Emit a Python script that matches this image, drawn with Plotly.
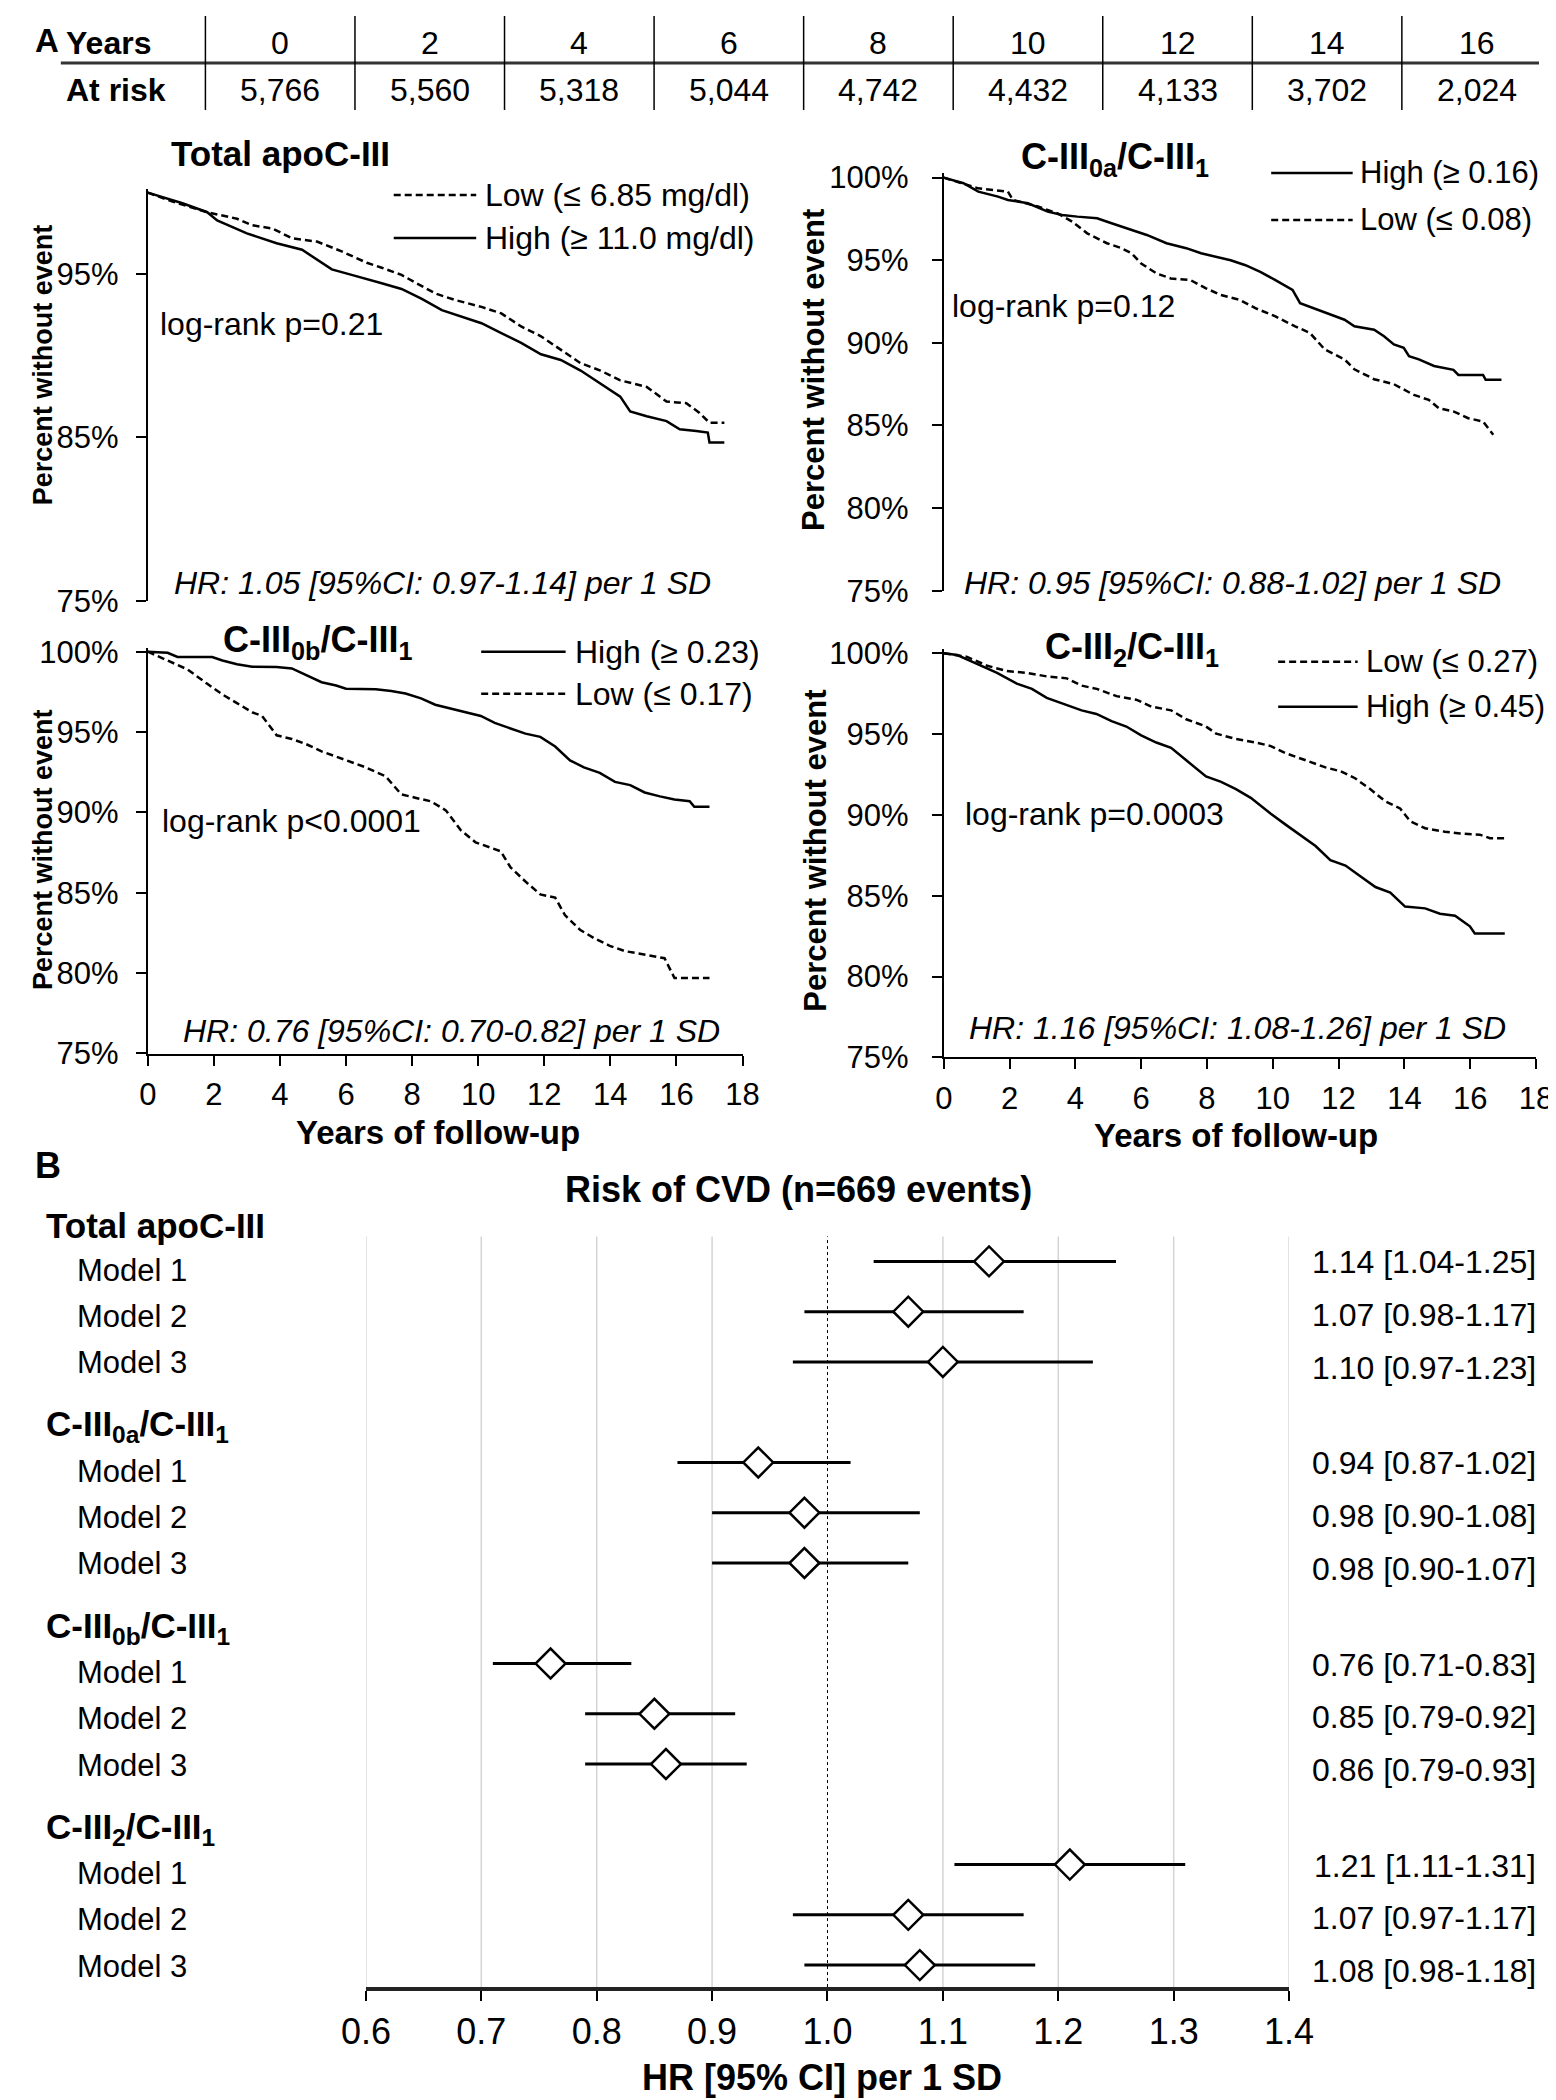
import plotly.graph_objects as go

W, H = 1556, 2100
FONT = "Liberation Sans, Arial, sans-serif"

# the page shows the paper at an offset; positions below are target pixels,
# converted to paper fractions here
OFFX, SPANX = 29.0, 1515.5
OFFY, SPANY = 21.0, 2070.0


def px(x):
    return (x - OFFX) / SPANX


def py(y):
    return 1 - (y - OFFY) / SPANY


# ---------------- data: at-risk table ----------------
years = [0, 2, 4, 6, 8, 10, 12, 14, 16]
at_risk = [5766, 5560, 5318, 5044, 4742, 4432, 4133, 3702, 2024]

# ---------------- data: Kaplan-Meier curves ----------------
# Total apoC-III
tot_low_t = [0, 0.75, 1.8, 2.26, 2.7, 3.16, 3.77, 4.37, 5.12, 5.87, 6.63, 7.08, 7.68, 8.13, 8.73, 9.34,
             10.1, 10.7, 11.3, 11.9, 12.5, 13.1, 13.7, 14.3, 15.1, 15.7, 16.3, 16.7, 17.0, 17.45]
tot_low_s = [100, 99.45, 98.8, 98.6, 98.4, 98.0, 97.8, 97.2, 97.0, 96.4, 95.7, 95.4, 94.96, 94.45, 93.8, 93.4,
             93.0, 92.6, 91.8, 91.2, 90.4, 89.55, 89.1, 88.5, 88.1, 87.2, 87.1, 86.5, 85.9, 85.9]
tot_high_t = [0, 1.05, 1.8, 2.1, 3.0, 3.9, 4.67, 5.27, 5.57, 6.17, 6.78, 7.08, 7.68, 8.28, 8.9, 9.5, 10.1,
              10.7, 11.3, 11.9, 12.5, 13.1, 13.7, 14.3, 14.6, 15.1, 15.7, 16.1, 16.6, 16.95, 17.0, 17.45]
tot_high_s = [100, 99.35, 98.8, 98.3, 97.5, 96.9, 96.5, 95.7, 95.3, 94.96, 94.65, 94.45, 94.1, 93.5, 92.8, 92.4,
              92.0, 91.4, 90.8, 90.1, 89.75, 89.1, 88.3, 87.5, 86.6, 86.3, 86.0, 85.5, 85.4, 85.3, 84.7, 84.7]

# C-III0a/C-III1
c0a_high_t = [0, 0.6, 1.05, 1.65, 1.95, 2.56, 3.16, 3.6, 4.06, 4.66, 5.1, 5.56, 6.17, 6.77, 7.37, 7.82,
              8.27, 8.72, 9.17, 9.62, 10.08, 10.6, 10.83, 11.1, 11.58, 12.18, 12.48, 13.08, 13.38, 13.68,
              13.98, 14.14, 14.44, 14.9, 15.49, 15.64, 16.39, 16.47, 16.95]
c0a_high_s = [100, 99.66, 99.15, 98.85, 98.65, 98.45, 97.94, 97.74, 97.64, 97.54, 97.24, 96.94, 96.53, 96.03,
              95.73, 95.42, 95.22, 95.0, 94.7, 94.3, 93.8, 93.2, 92.4, 92.2, 91.8, 91.4, 91.0, 90.8, 90.4,
              89.9, 89.7, 89.2, 89.0, 88.6, 88.37, 88.06, 88.06, 87.76, 87.76]
c0a_low_t = [0, 1.05, 1.95, 2.1, 2.86, 3.46, 3.9, 4.36, 4.96, 5.4, 5.71, 6.0, 6.47, 6.9, 7.5, 7.97, 8.42,
             9.0, 9.47, 10.08, 10.68, 11.13, 11.58, 12.18, 12.48, 13.08, 13.68, 14.29, 14.74, 15.04, 15.49,
             15.94, 16.39, 16.7]
c0a_low_s = [100, 99.35, 99.15, 98.65, 98.25, 97.84, 97.34, 96.63, 96.03, 95.73, 95.42, 94.8, 94.2, 93.9,
             93.8, 93.3, 92.9, 92.6, 92.1, 91.6, 91.0, 90.6, 89.6, 89.0, 88.4, 87.8, 87.5, 86.85, 86.55,
             86.05, 85.85, 85.44, 85.24, 84.44]

# C-III0b/C-III1
c0b_high_t = [0, 0.6, 0.9, 1.95, 2.26, 2.7, 3.16, 3.9, 4.36, 4.8, 5.26, 5.7, 6.0, 6.9, 7.37, 7.8, 8.27,
              8.7, 9.17, 9.62, 10.08, 10.5, 10.98, 11.43, 11.88, 12.33, 12.78, 13.2, 13.68, 14.14, 14.6,
              15.04, 15.5, 15.94, 16.4, 16.54, 17.0]
c0b_high_s = [100, 99.93, 99.67, 99.67, 99.45, 99.22, 99.07, 99.05, 98.96, 98.56, 98.1, 97.9, 97.7, 97.67,
              97.56, 97.4, 97.1, 96.7, 96.45, 96.2, 96.0, 95.57, 95.2, 94.9, 94.7, 94.1, 93.24, 92.8, 92.46,
              91.9, 91.7, 91.24, 91.0, 90.8, 90.7, 90.35, 90.35]
c0b_low_t = [0, 0.6, 1.2, 1.8, 2.26, 2.7, 3.16, 3.46, 3.9, 4.36, 4.8, 5.26, 5.7, 6.17, 6.6, 7.2, 7.67,
             8.12, 8.57, 9.02, 9.47, 9.92, 10.68, 10.98, 11.43, 11.88, 12.33, 12.63, 13.08, 13.53, 13.98,
             14.44, 15.04, 15.64, 15.94, 17.0]
c0b_low_s = [100, 99.45, 98.9, 98.0, 97.34, 96.8, 96.23, 96.0, 94.8, 94.57, 94.24, 93.8, 93.46, 93.13, 92.8,
             92.24, 91.13, 90.9, 90.69, 90.13, 88.9, 88.14, 87.58, 86.58, 85.7, 84.9, 84.7, 83.6, 82.7,
             82.15, 81.7, 81.37, 81.15, 80.93, 79.7, 79.7]

# C-III2/C-III1
c2_low_t = [0, 0.71, 1.32, 1.92, 2.53, 3.13, 3.74, 4.19, 4.65, 5.25, 5.85, 6.31, 6.91, 7.37, 7.97, 8.28,
            8.88, 9.49, 9.94, 10.39, 11.0, 11.6, 12.06, 12.5, 12.96, 13.42, 13.87, 14.18, 14.63, 15.23,
            15.69, 16.29, 16.6, 17.05]
c2_low_s = [100, 99.78, 99.23, 98.9, 98.79, 98.57, 98.45, 98.0, 97.8, 97.35, 97.13, 96.7, 96.47, 95.92,
            95.47, 95.03, 94.7, 94.48, 94.26, 93.82, 93.38, 92.94, 92.7, 92.27, 91.6, 90.84, 90.4, 89.6,
            89.18, 88.96, 88.85, 88.78, 88.56, 88.56]
c2_high_t = [0, 0.41, 1.01, 1.62, 2.22, 2.68, 3.13, 3.59, 4.19, 4.64, 5.1, 5.55, 6.0, 6.46, 6.91, 7.37,
             7.97, 8.43, 8.88, 9.33, 9.94, 10.39, 10.85, 11.3, 11.75, 12.21, 12.66, 13.12, 13.57, 14.02,
             14.63, 15.08, 15.54, 15.99, 16.14, 17.05]
c2_high_s = [100, 99.89, 99.34, 98.79, 98.12, 97.8, 97.24, 96.9, 96.47, 96.25, 95.8, 95.47, 94.92, 94.48,
             94.15, 93.38, 92.38, 92.05, 91.6, 91.06, 90.07, 89.4, 88.74, 88.08, 87.2, 86.87, 86.2, 85.54,
             85.2, 84.33, 84.22, 83.89, 83.77, 83.11, 82.67, 82.67]

panel_titles = ["Total apoC-III", "C-III<sub>0a</sub>/C-III<sub>1</sub>",
                "C-III<sub>0b</sub>/C-III<sub>1</sub>", "C-III<sub>2</sub>/C-III<sub>1</sub>"]
legend_labels = [["Low (\u2264 6.85 mg/dl)", "High (\u2265 11.0 mg/dl)"],
                 ["High (\u2265 0.16)", "Low (\u2264 0.08)"],
                 ["High (\u2265 0.23)", "Low (\u2264 0.17)"],
                 ["Low (\u2264 0.27)", "High (\u2265 0.45)"]]
logrank_text = ["log-rank p=0.21", "log-rank p=0.12", "log-rank p<0.0001", "log-rank p=0.0003"]
hr_text = ["HR: 1.05 [95%CI: 0.97-1.14] per 1 SD", "HR: 0.95 [95%CI: 0.88-1.02] per 1 SD",
           "HR: 0.76 [95%CI: 0.70-0.82] per 1 SD", "HR: 1.16 [95%CI: 1.08-1.26] per 1 SD"]

# ---------------- data: forest plot ----------------
forest_groups = ["Total apoC-III", "C-III<sub>0a</sub>/C-III<sub>1</sub>",
                 "C-III<sub>0b</sub>/C-III<sub>1</sub>", "C-III<sub>2</sub>/C-III<sub>1</sub>"]
forest_models = ["Model 1", "Model 2", "Model 3"]
hr = [1.14, 1.07, 1.10, 0.94, 0.98, 0.98, 0.76, 0.85, 0.86, 1.21, 1.07, 1.08]
hr_lo = [1.04, 0.98, 0.97, 0.87, 0.90, 0.90, 0.71, 0.79, 0.79, 1.11, 0.97, 0.98]
hr_hi = [1.25, 1.17, 1.23, 1.02, 1.08, 1.07, 0.83, 0.92, 0.93, 1.31, 1.17, 1.18]
forest_ticks = [0.6, 0.7, 0.8, 0.9, 1.0, 1.1, 1.2, 1.3, 1.4]

# ---------------- layout geometry (target pixels) ----------------
panels = [
    dict(series=[(tot_low_t, tot_low_s, True), (tot_high_t, tot_high_s, False)],
         x=(144.5, 743), y=(192.7, 601), yt=[75, 85, 95], xaxis_shown=False,
         title=(278, 154), title_size=35, leg_line=(392, 475), leg_text=482, leg_y=(195, 238), leg_size=32,
         lr=(155, 324), hr=(441, 583), ytitle=(38.5, 365), yt_size=27, standoff=11, xtitle=None),
    dict(series=[(c0a_high_t, c0a_high_s, False), (c0a_low_t, c0a_low_s, True)],
         x=(945.5, 1541.5), y=(177.7, 591), yt=[75, 80, 85, 90, 95, 100], xaxis_shown=False,
         title=(1118, 155), title_size=36, leg_line=(1275, 1357), leg_text=1362, leg_y=(173, 220), leg_size=31,
         lr=(952, 306), hr=(1236, 583), ytitle=(815, 370), yt_size=31, standoff=17, xtitle=None),
    dict(series=[(c0b_high_t, c0b_high_s, False), (c0b_low_t, c0b_low_s, True)],
         x=(144.5, 743), y=(652, 1054), yt=[75, 80, 85, 90, 95, 100], xaxis_shown=True,
         title=(315, 638), title_size=36, leg_line=(480, 565), leg_text=572, leg_y=(652, 694), leg_size=32,
         lr=(157, 821), hr=(450, 1031), ytitle=(38.5, 850), yt_size=27, standoff=11, xtitle=(437, 1133)),
    dict(series=[(c2_low_t, c2_low_s, True), (c2_high_t, c2_high_s, False)],
         x=(945.5, 1541.5), y=(653.6, 1057.9), yt=[75, 80, 85, 90, 95, 100], xaxis_shown=True,
         title=(1135, 645), title_size=36, leg_line=(1282, 1362), leg_text=1368, leg_y=(662, 707), leg_size=31,
         lr=(965, 814), hr=(1241, 1028), ytitle=(817, 851), yt_size=31, standoff=17, xtitle=(1240, 1136)),
]

DASH = "7px,4px"
LW = 2.5
TICKSZ = 31
TXTSZ = 32

fig = go.Figure()
layout = {}
annotations = []
shapes = []


def txt(x, y, text, size, anchor="center", yanchor="middle", angle=0, xref="paper", yref="paper", **kw):
    d = dict(xref=xref, yref=yref, x=x, y=y, text=text, showarrow=False, xanchor=anchor,
             yanchor=yanchor, textangle=angle, font=dict(family=FONT, size=size, color="black"))
    d.update(kw)
    annotations.append(d)


YMAX = 100.25
for i, p in enumerate(panels, start=1):
    xa = "x" if i == 1 else f"x{i}"
    ya = "y" if i == 1 else f"y{i}"
    for t, s, dashed in p["series"]:
        fig.add_trace(go.Scatter(x=t, y=s, mode="lines", xaxis=xa, yaxis=ya, showlegend=False,
                                 hoverinfo="skip",
                                 line=dict(color="black", width=LW, dash=DASH if dashed else "solid")))
    p100, p75 = p["y"]
    top_px = p100 - (YMAX - 100) * (p75 - p100) / 25.0
    layout[f"xaxis{i}"] = dict(
        domain=[px(p["x"][0]), px(p["x"][1])], range=[0, 18], anchor=ya,
        showgrid=False, zeroline=False,
        showline=p["xaxis_shown"], linecolor="black", linewidth=2,
        ticks="outside" if p["xaxis_shown"] else "", ticklen=10, tickwidth=2, tickcolor="black",
        tickvals=list(range(0, 19, 2)), showticklabels=p["xaxis_shown"],
        tickfont=dict(family=FONT, size=31, color="black"), ticklabelstandoff=2,
    )
    layout[f"yaxis{i}"] = dict(
        domain=[py(p75), py(top_px)], range=[75, YMAX], anchor=xa,
        showgrid=False, zeroline=False, showline=True, linecolor="black", linewidth=2,
        ticks="outside", ticklen=10, tickwidth=2, tickcolor="black",
        tickvals=p["yt"], ticktext=[f"{v}%" for v in p["yt"]],
        tickfont=dict(family=FONT, size=TICKSZ, color="black"), ticklabelstandoff=p["standoff"],
    )
    sub = "<sub>" in panel_titles[i - 1]
    txt(px(p["title"][0]), py(p["title"][1] + (4 if sub else 0)), f"<b>{panel_titles[i-1]}</b>",
        p["title_size"])
    for k, (lab, (_, _, dashed)) in enumerate(zip(legend_labels[i - 1], p["series"])):
        yy = p["leg_y"][k]
        shapes.append(dict(type="line", xref="paper", yref="paper", x0=px(p["leg_line"][0]),
                           x1=px(p["leg_line"][1]), y0=py(yy), y1=py(yy),
                           line=dict(color="black", width=LW, dash=DASH if dashed else "solid")))
        txt(px(p["leg_text"]), py(yy), lab, p["leg_size"], anchor="left")
    txt(px(p["lr"][0]), py(p["lr"][1]), logrank_text[i - 1], TXTSZ, anchor="left")
    txt(px(p["hr"][0]), py(p["hr"][1]), f"<i>{hr_text[i-1]}</i>", TXTSZ)
    txt(px(p["ytitle"][0]), py(p["ytitle"][1]), "<b>Percent without event</b>", p["yt_size"], angle=-90)
    if p["xtitle"]:
        txt(px(p["xtitle"][0]), py(p["xtitle"][1]), "<b>Years of follow-up</b>", 33)

# ---------------- panel letters and at-risk table ----------------
txt(px(29), py(41), "<b>A</b>", 33, anchor="left")
txt(px(29), py(1166), "<b>B</b>", 36, anchor="left")
TAB_X0, TAB_DX = 202.5, 150.5
txt(px(60), py(43), "<b>Years</b>", 32, anchor="left")
txt(px(60), py(90), "<b>At risk</b>", 32, anchor="left")
shapes.append(dict(type="line", xref="paper", yref="paper", x0=px(57), x1=1, y0=py(63), y1=py(63),
                   line=dict(color="#333333", width=3)))
for k, (yv, nr) in enumerate(zip(years, at_risk)):
    left = TAB_X0 + k * TAB_DX
    shapes.append(dict(type="line", xref="paper", yref="paper", x0=px(left), x1=px(left),
                       y0=py(16), y1=py(110), line=dict(color="black", width=1.5)))
    cx = left + TAB_DX / 2
    txt(px(cx), py(43), str(yv), 32)
    txt(px(cx), py(90), f"{nr:,}", 32)

# ---------------- forest plot ----------------
F_X = (364, 1293)
F_TOP, F_BOT = 1237, 1988
ROW0, ROWH = 1262, 50.29
rows = [g * 4 + m for g in range(len(forest_groups)) for m in range(len(forest_models))]
yr_top = (F_TOP - ROW0) / ROWH
yr_bot = (F_BOT - ROW0) / ROWH

fig.add_trace(go.Scatter(
    x=hr, y=rows, mode="markers", xaxis="x5", yaxis="y5", showlegend=False, hoverinfo="skip",
    marker=dict(symbol="diamond", size=23, color="white", line=dict(color="black", width=2.5)),
    error_x=dict(type="data", symmetric=False,
                 array=[h - v for h, v in zip(hr_hi, hr)],
                 arrayminus=[v - l for v, l in zip(hr, hr_lo)],
                 color="black", thickness=3, width=0),
))
layout["xaxis5"] = dict(domain=[px(F_X[0]), px(F_X[1])], range=[0.6, 1.4], anchor="y5",
                        tickvals=forest_ticks, ticktext=[f"{v:.1f}" for v in forest_ticks],
                        showgrid=False, zeroline=False, showline=True, linecolor="#222222", linewidth=3.5,
                        ticks="outside", ticklen=10, tickwidth=1.5, tickcolor="black",
                        tickfont=dict(family=FONT, size=36, color="black"), ticklabelstandoff=0)
layout["yaxis5"] = dict(domain=[py(F_BOT), py(F_TOP)], range=[yr_bot, yr_top], anchor="x5",
                        visible=False, showgrid=False, zeroline=False)
for v in forest_ticks:
    if abs(v - 1.0) < 1e-9:
        shapes.append(dict(type="line", xref="x5", yref="y5 domain", x0=v, x1=v, y0=0, y1=1, layer="below",
                           line=dict(color="black", width=1, dash="dot")))
    else:
        shapes.append(dict(type="line", xref="x5", yref="y5 domain", x0=v, x1=v, y0=0, y1=1, layer="below",
                           line=dict(color="#d4d4d4", width=1.5)))

model_shift = [-9, -5, -1]
label_shift = [-1, -3, -6]
for g, name in enumerate(forest_groups):
    txt(px(40), g * 4, f"<b>{name}</b>", 35, anchor="left", yref="y5", yshift=36)
for idx, r in enumerate(rows):
    m = idx % 3
    txt(px(71), r, forest_models[m], 31, anchor="left", yref="y5", yshift=model_shift[m])
    txt(px(1543), r, f"{hr[idx]:.2f} [{hr_lo[idx]:.2f}-{hr_hi[idx]:.2f}]", 32, anchor="right",
        yref="y5", yshift=label_shift[m])

txt(px(799), py(1190), "<b>Risk of CVD (n=669 events)</b>", 36)
txt(px(823), py(2078), "<b>HR [95% CI] per 1 SD</b>", 36)

fig.update_layout(
    width=W, height=H, margin=dict(l=0, r=0, t=0, b=0),
    paper_bgcolor="white", plot_bgcolor="white",
    font=dict(family=FONT, color="black"),
    annotations=annotations, shapes=shapes, showlegend=False,
    **layout,
)
fig.write_html("out.html")
